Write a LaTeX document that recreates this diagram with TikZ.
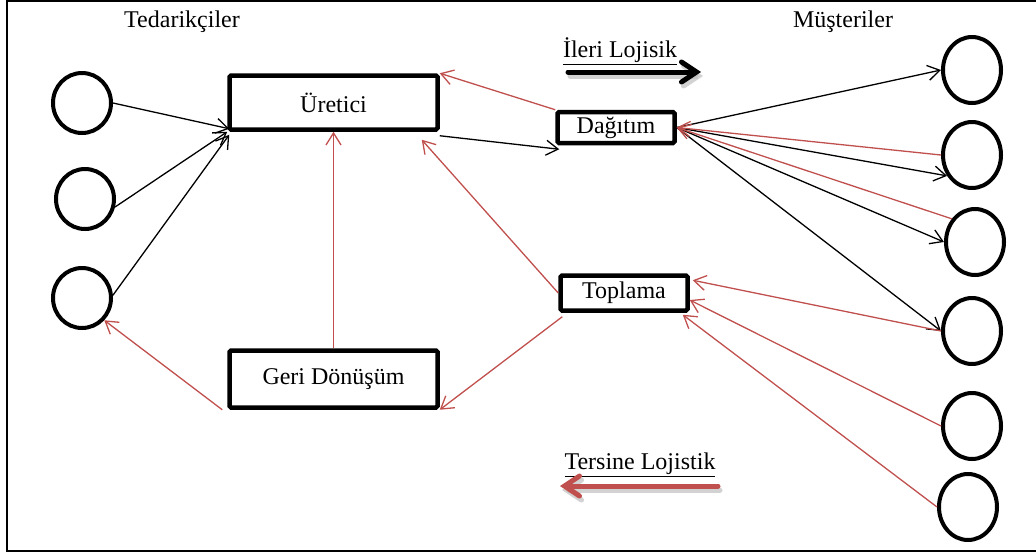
\documentclass[tikz,border=0pt]{standalone}
\usepackage{fontspec}
\setmainfont{Liberation Serif}
\usetikzlibrary{arrows.meta,shapes.geometric}
\usepackage{color}
\definecolor{tersred}{RGB}{192,80,77}

\tikzset{
  lbl/.style={font=\fontsize{24}{28}\selectfont},
  unit/.style={lbl,draw,line width=4.5pt,rounded corners=1.5pt,inner sep=0pt},
  supplier/.style={draw,ellipse,line width=4pt,minimum width=58pt,minimum height=60pt,inner sep=0pt},
  customer/.style={supplier,minimum height=66pt},
  fwd/.style={line width=1.3pt,-{Straight Barb[length=12pt,width=15pt]}},
  back/.style={fwd,tersred},
  bigarrow/.style={line width=5pt,line cap=round,-{Straight Barb[length=15pt,width=20pt,line cap=round]}},
  bigshadow/.style={bigarrow,black!25,opacity=0.7,transform canvas={shift={(2pt,-4pt)}}}
}

\begin{document}
\begin{tikzpicture}[x=1pt,y=-1pt]
\useasboundingbox (0,0) rectangle (1036,555);
\draw[line width=2.5pt] (1036,1) -- (7,1) -- (7,551) -- (1036,551);

% headings
\node[lbl] (ted) at (182,22) {Tedarikçiler};
\node[lbl] (mus) at (843,22) {Müşteriler};

% units
\node[unit,minimum width=208pt,minimum height=54pt] (ure) at (333.5,102.5) {Üretici};
\node[unit,minimum width=208pt,minimum height=57pt] (geri) at (333.5,379) {Geri Dönüşüm};
\node[unit,minimum width=117pt,minimum height=31pt] (dag) at (616,127.5) {Dağıtım};
\node[unit,minimum width=127pt,minimum height=35pt] (top) at (624,293) {Toplama};

% suppliers
\node[supplier] (t1) at (82,103) {};
\node[supplier] (t2) at (85,199) {};
\node[supplier] (t3) at (82,298) {};

% customers
\node[customer] (m1) at (972,70) {};
\node[customer] (m2) at (972,155) {};
\node[customer] (m3) at (975,242) {};
\node[customer] (m4) at (972,331) {};
\node[customer] (m5) at (972,426) {};
\node[customer] (m6) at (968,507) {};

% forward flow
\draw[fwd] (t1.east) -- ([shift={(2pt,3pt)}]ure.south west);
\draw[fwd] (t2.-15) -- (ure.south west);
\draw[fwd] (t3.5) -- ([shift={(2pt,-3pt)}]ure.south west);
\draw[fwd] ([yshift=-4pt]ure.south east) -- ([shift={(4pt,-4pt)}]dag.south west);
\draw[fwd] (dag.east) -- (m1.west);
\draw[fwd] (dag.east) -- (m2.220);
\draw[fwd] (dag.east) -- (m3.west);
\draw[fwd] (dag.east) -- (m4.west);

% reverse flow
\draw[back] (m2.west) -- (dag.east);
\draw[back] (m3.135) -- (dag.east);
\draw[back] (dag.north west) -- (ure.north east);
\draw[back] (top.west) -- ([shift={(-18pt,-8pt)}]ure.south east);
\draw[back] ([shift={(4pt,-4pt)}]top.south west) -- (geri.south east);
\draw[back] (geri.north) -- (ure.south);
\draw[back] ([xshift=-5pt]geri.south west) -- (t3.-45);
\draw[back] (m4.west) -- ([shift={(3pt,-7pt)}]top.north east);
\draw[back] (m5.west) -- ([yshift=-7pt]top.east);
\draw[back] (m6.west) -- ([shift={(-7pt,-2pt)}]top.south east);

% legend
\node[lbl] (ileri) at (620,51) {\underline{İleri Lojisik}};
\coordinate (ia) at (568,72);
\coordinate (ib) at (701,72);
\draw[bigshadow] (ia) -- (ib);
\draw[bigarrow] (ia) -- (ib);

\node[lbl] (ters) at (640,465) {\underline{Tersine Lojistik}};
\coordinate (ta) at (718,486);
\coordinate (tb) at (560,486);
\draw[bigshadow] (ta) -- (tb);
\draw[bigarrow,tersred] (ta) -- (tb);
\end{tikzpicture}
\end{document}
